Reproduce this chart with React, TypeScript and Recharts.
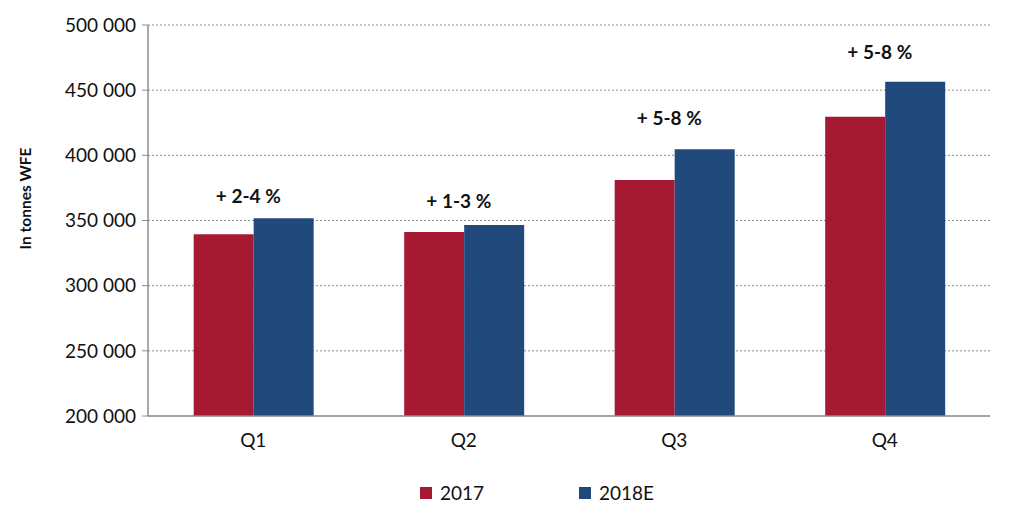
import React from 'react';
import { ComposedChart, Bar, Line, XAxis, YAxis, CartesianGrid, Legend, LabelList } from 'recharts';

// Quarterly volumes, tonnes WFE
const quarters = ['Q1', 'Q2', 'Q3', 'Q4'];
const values2017 = [339400, 341200, 381100, 429600];
const values2018E = [351700, 346500, 404600, 456500];
const growthLabels = ['+ 2-4 %', '+ 1-3 %', '+ 5-8 %', '+ 5-8 %'];
const growthLabelLevels = [368800, 365700, 429400, 480000];
const yTicks = [200000, 250000, 300000, 350000, 400000, 450000, 500000];
const edgeTicks = [0, 1, 2, 3, 4];

const red = '#a51a32';
const blue = '#21497c';
const fontFamily = 'Lato, "Open Sans", sans-serif';

const data = quarters.map((q, i) => ({
  quarter: q,
  y2017: values2017[i],
  y2018E: values2018E[i],
  growth: growthLabels[i],
  labelLevel: growthLabelLevels[i],
}));

const formatThousands = (v: number) => {
  const k = Math.floor(v / 1000);
  return `${k} 000`;
};

const GrowthLabel = (props: any) => {
  const { x, y, value } = props;
  return (
    <text
      x={x - 5}
      y={y}
      textAnchor="middle"
      dominantBaseline="central"
      fontFamily={fontFamily}
      fontWeight={700}
      fontSize={19}
      fill="#111"
    >
      {value}
    </text>
  );
};

// rotated axis title, a bit above the axis middle like the original
const AxisTitle = (props: any) => {
  const { viewBox } = props;
  const cx = viewBox.x + 25;
  const cy = viewBox.y + viewBox.height / 2 - 22;
  return (
    <text
      x={cx}
      y={cy}
      transform={`rotate(-90 ${cx} ${cy})`}
      textAnchor="middle"
      dominantBaseline="central"
      fontFamily={fontFamily}
      fontWeight={700}
      fontSize={15.5}
      fill="#111"
    >
      In tonnes WFE
    </text>
  );
};

const renderLegend = () => {
  const items = [
    { label: '2017', color: red },
    { label: '2018E', color: blue },
  ];
  return (
    <div style={{ display: 'flex', justifyContent: 'center', gap: 95, fontFamily, fontSize: 19, color: '#111', paddingLeft: 50 }}>
      {items.map((it) => (
        <div key={it.label} style={{ display: 'flex', alignItems: 'center', gap: 8 }}>
          <span style={{ width: 12, height: 12, background: it.color, display: 'inline-block' }}></span>
          <span>{it.label}</span>
        </div>
      ))}
    </div>
  );
};

const App: React.FC = () => {
  return (
    <div style={{ position: 'absolute', left: 0, top: 0, width: 1024, height: 516, background: '#fff' }}>
      <ComposedChart
        width={1024}
        height={516}
        data={data}
        margin={{ top: 25, right: 34, left: 0, bottom: 37 }}
        barCategoryGap="21.7%"
        barGap={0}
      >
        <CartesianGrid vertical={false} stroke="#8c8c8c" strokeDasharray="2 2" yAxisId="left" xAxisId="cat" />
        <XAxis
          xAxisId="edge"
          type="number"
          domain={[0, 4]}
          ticks={edgeTicks}
          tick={false}
          tickSize={6}
          tickLine={{ stroke: '#8c8c8c' }}
          axisLine={false}
          height={0}
        />
        <XAxis
          xAxisId="cat"
          dataKey="quarter"
          tickLine={false}
          axisLine={{ stroke: '#8c8c8c', strokeWidth: 1.5 }}
          tick={{ fill: '#111', fontSize: 19, fontFamily }}
          tickMargin={12}
          height={40}
        />
        <YAxis
          yAxisId="left"
          domain={[200000, 500000]}
          ticks={yTicks}
          tickFormatter={formatThousands}
          allowDataOverflow
          width={148}
          tickSize={6}
          tickLine={{ stroke: '#8c8c8c' }}
          axisLine={{ stroke: '#8c8c8c', strokeWidth: 1.5 }}
          tick={{ fill: '#111', fontSize: 19, fontFamily }}
          tickMargin={6}
          label={{ content: AxisTitle }}
        />
        <Bar xAxisId="cat" yAxisId="left" dataKey="y2017" name="2017" fill={red} isAnimationActive={false} />
        <Bar xAxisId="cat" yAxisId="left" dataKey="y2018E" name="2018E" fill={blue} isAnimationActive={false} />
        <Line
          xAxisId="cat"
          yAxisId="left"
          dataKey="labelLevel"
          stroke="none"
          dot={false}
          activeDot={false}
          legendType="none"
          isAnimationActive={false}
        >
          <LabelList dataKey="growth" content={GrowthLabel} />
        </Line>
        <Legend verticalAlign="bottom" content={renderLegend} wrapperStyle={{ bottom: 12, left: 0, width: 1024 }} />
      </ComposedChart>
    </div>
  );
};

export default App;
